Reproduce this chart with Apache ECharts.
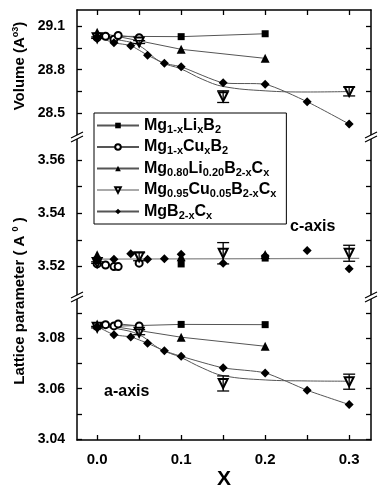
<!DOCTYPE html>
<html>
<head>
<meta charset="utf-8">
<script src="https://cdn.jsdelivr.net/npm/echarts@6/dist/echarts.min.js"></script>
<style>
  html, body { margin: 0; padding: 0; background: #fff; }
  #chart { width: 382px; height: 491px; }
</style>
</head>
<body>
<div id="chart"></div>
<script>
// series names (legend shows them with subscripts)
const names = ["Mg1-xLixB2", "Mg1-xCuxB2", "Mg0.80Li0.20B2-xCx", "Mg0.95Cu0.05B2-xCx", "MgB2-xCx"];
const legendRich = [
  "Mg{s|1-x}Li{s|x}B{s|2}",
  "Mg{s|1-x}Cu{s|x}B{s|2}",
  "Mg{s|0.80}Li{s|0.20}B{s|2-x}C{s|x}",
  "Mg{s|0.95}Cu{s|0.05}B{s|2-x}C{s|x}",
  "MgB{s|2-x}C{s|x}"
];

// Mg1-xLixB2
const xLi = [0, 0.1, 0.2];
const volLi = [29.03, 29.027, 29.047];
const cLi = [3.5225, 3.5210, 3.5232];
const aLi = [3.0847, 3.0856, 3.0855];

// Mg1-xCuxB2
const xCu = [0, 0.01, 0.02, 0.025, 0.05];
const volCu = [29.02, 29.03, 29.01, 29.035, 29.02];
const cCu = [3.5210, 3.5206, 3.5200, 3.5200, 3.5213];
const aCu = [3.0848, 3.0855, 3.0850, 3.0858, 3.0850];

// Mg0.80Li0.20B2-xCx
const xLiC = [0, 0.1, 0.2];
const volLiC = [29.057, 28.94, 28.878];
const cLiC = [3.5244, 3.5237, 3.5245];
const aLiC = [3.0858, 3.0805, 3.0769];

// Mg0.95Cu0.05B2-xCx (with error bars)
const xCuC = [0, 0.05, 0.15, 0.3];
const volCuC = [29.02, 28.99, 28.615, 28.65];
const volCuCErr = [0.005, 0.01, 0.04, 0.03];
const cCuC = [3.5215, 3.5237, 3.5250, 3.5250];
const cCuCErr = [0.0003, 0.0015, 0.004, 0.003];
const aCuC = [3.0845, 3.0825, 3.0621, 3.0628];
const aCuCErr = [0.0003, 0.001, 0.003, 0.003];

// MgB2-xCx
const xC = [0, 0.02, 0.04, 0.06, 0.08, 0.1, 0.15, 0.2, 0.25, 0.3];
const volC = [29.027, 28.985, 28.965, 28.90, 28.844, 28.82, 28.71, 28.70, 28.58, 28.427];
const cC = [3.5225, 3.5228, 3.5248, 3.5228, 3.5229, 3.5246, 3.5213, 3.5240, 3.5260, 3.5192];
const aC = [3.0848, 3.0815, 3.0806, 3.0781, 3.0751, 3.0729, 3.0683, 3.0663, 3.0594, 3.0537];

// guide curves drawn through the Cu+C data
const xFit = [0, 0.025, 0.05, 0.075, 0.1, 0.125, 0.15, 0.2, 0.25, 0.3];
const volFit = [29.02, 29.005, 28.965, 28.855, 28.805, 28.735, 28.685, 28.655, 28.647, 28.65];
const aFit = [3.0848, 3.0838, 3.0815, 3.0758, 3.0724, 3.0683, 3.0652, 3.0635, 3.0631, 3.0630];
const xFlat = [-0.005, 0.312];
const cFlat = [3.5228, 3.5231];

// ticks
const xTicks = [0, 0.05, 0.1, 0.15, 0.2, 0.25, 0.3];
const xTickLabels = [0, 0.1, 0.2, 0.3];
const volTicks = [28.5, 28.65, 28.8, 28.95, 29.1];
const volLabels = [28.5, 28.8, 29.1];
const cTicks = [3.52, 3.53, 3.54, 3.55, 3.56];
const cLabels = [3.52, 3.54, 3.56];
const aTicks = [3.04, 3.05, 3.06, 3.07, 3.08, 3.09];
const aLabels = [3.04, 3.06, 3.08];

const FONT = "'Liberation Sans', Arial, sans-serif";
const LINE = "#555";

function pairs(xs, ys) {
  return xs.map((x, i) => [x, ys[i]]);
}

const chart = echarts.init(document.getElementById("chart"));

const grids = [
  { left: 77, right: 11, top: 10, height: 127 },
  { left: 77, right: 11, top: 137, height: 160 },
  { left: 77, right: 11, top: 297, height: 154 }
];
const yRanges = [[28.338, 29.21], [3.5086, 3.5686], [3.0396, 3.0965]];
const yTicks = [volTicks, cTicks, aTicks];
const yLabels = [volLabels, cLabels, aLabels];
const yDigits = [1, 2, 2];

const tickStyle = { inside: true, length: 5, lineStyle: { color: "#000", width: 1.3 } };
const axisLine = { show: true, onZero: false, lineStyle: { color: "#000", width: 1.5 } };

const xAxes = [];
for (let i = 0; i < 3; i++) {
  xAxes.push({
    type: "value", gridIndex: i, min: -0.024, max: 0.326,
    show: i === 2, position: "bottom",
    axisLine: axisLine,
    axisTick: Object.assign({ customValues: xTicks }, tickStyle),
    axisLabel: {
      customValues: xTickLabels, margin: 12,
      formatter: v => v.toFixed(1),
      color: "#000", fontFamily: FONT, fontWeight: "bold", fontSize: 15
    },
    splitLine: { show: false },
    name: i === 2 ? "X" : "", nameLocation: "middle", nameGap: 29,
    nameTextStyle: { color: "#000", fontFamily: FONT, fontWeight: "bold", fontSize: 21 }
  });
}
// top frame with ticks
xAxes.push({
  type: "value", gridIndex: 0, min: -0.024, max: 0.326, position: "top",
  axisLine: axisLine,
  axisTick: Object.assign({ customValues: xTicks }, tickStyle),
  axisLabel: { show: false },
  splitLine: { show: false }
});

const yAxes = [];
for (let i = 0; i < 3; i++) {
  yAxes.push({
    type: "value", gridIndex: i, min: yRanges[i][0], max: yRanges[i][1], position: "left",
    axisLine: axisLine,
    axisTick: Object.assign({ customValues: yTicks[i] }, tickStyle),
    axisLabel: {
      customValues: yLabels[i], margin: 12,
      formatter: v => v.toFixed(yDigits[i]),
      color: "#000", fontFamily: FONT, fontWeight: "bold", fontSize: 14
    },
    splitLine: { show: false }
  });
}
for (let i = 0; i < 3; i++) {
  yAxes.push({
    type: "value", gridIndex: i, min: yRanges[i][0], max: yRanges[i][1], position: "right",
    axisLine: axisLine,
    axisTick: Object.assign({ customValues: yTicks[i] }, tickStyle),
    axisLabel: { show: false },
    splitLine: { show: false }
  });
}

const defs = [
  { xs: xLi, ys: [volLi, cLi, aLi], symbol: "rect", size: 7 },
  { xs: xCu, ys: [volCu, cCu, aCu], symbol: "emptyCircle", size: 7 },
  { xs: xLiC, ys: [volLiC, cLiC, aLiC], symbol: "triangle", size: 9 },
  { xs: xCuC, ys: [volCuC, cCuC, aCuC], symbol: "emptyTriangle", size: 9, rotate: 180, noLine: true },
  { xs: xC, ys: [volC, cC, aC], symbol: "diamond", size: 9 }
];
const errs = [volCuCErr, cCuCErr, aCuCErr];

const series = [];
for (let p = 0; p < 3; p++) {
  defs.forEach((d, k) => {
    const hide = d.noLine || p === 1;
    series.push({
      type: "line", name: names[k], xAxisIndex: p, yAxisIndex: p,
      data: pairs(d.xs, d.ys[p]),
      symbol: d.symbol, symbolSize: d.size, symbolRotate: d.rotate || 0,
      itemStyle: { color: "#000", borderWidth: 1 },
      lineStyle: { color: LINE, width: 1, opacity: hide ? 0 : 1 },
      smooth: k === 4 ? 0.2 : false,
      z: 3, animation: false
    });
  });
  series.push({
    type: "custom", xAxisIndex: p, yAxisIndex: p, z: 4, animation: false,
    data: xCuC.map((x, i) => [x, defs[3].ys[p][i] - errs[p][i], defs[3].ys[p][i] + errs[p][i]]),
    encode: { x: 0, y: [1, 2] },
    renderItem: (params, api) => {
      const x = api.value(0);
      const lo = api.coord([x, api.value(1)]);
      const hi = api.coord([x, api.value(2)]);
      const w = 6;
      const st = { stroke: "#000", lineWidth: 1.3 };
      return {
        type: "group",
        children: [
          { type: "line", shape: { x1: lo[0], y1: lo[1], x2: hi[0], y2: hi[1] }, style: st },
          { type: "line", shape: { x1: lo[0] - w, y1: lo[1], x2: lo[0] + w, y2: lo[1] }, style: st },
          { type: "line", shape: { x1: hi[0] - w, y1: hi[1], x2: hi[0] + w, y2: hi[1] }, style: st }
        ]
      };
    }
  });
}
// guide curves
series.push({
  type: "line", xAxisIndex: 0, yAxisIndex: 0, data: pairs(xFit, volFit),
  showSymbol: false, smooth: 0.4, lineStyle: { color: LINE, width: 1 }, z: 2, animation: false
});
series.push({
  type: "line", xAxisIndex: 1, yAxisIndex: 1, data: pairs(xFlat, cFlat),
  showSymbol: false, lineStyle: { color: "#888", width: 1.2 }, z: 2, animation: false
});
series.push({
  type: "line", xAxisIndex: 2, yAxisIndex: 2, data: pairs(xFit, aFit),
  showSymbol: false, smooth: 0.4, lineStyle: { color: LINE, width: 1 }, z: 2, animation: false
});

function brk(x, y) {
  const st = { stroke: "#000", lineWidth: 1.2 };
  return [
    { type: "rect", shape: { x: x - 3, y: y - 2, width: 6, height: 4 }, style: { fill: "#fff" }, z: 100 },
    { type: "line", shape: { x1: x - 6, y1: y + 1, x2: x + 6, y2: y - 5 }, style: st, z: 101 },
    { type: "line", shape: { x1: x - 6, y1: y + 5, x2: x + 6, y2: y - 1 }, style: st, z: 101 }
  ];
}

const titleRich = {
  n: { fontFamily: FONT, fontWeight: "bold", fontSize: 15, fill: "#000" },
  sup: { fontFamily: FONT, fontWeight: "bold", fontSize: 9, fill: "#000", padding: [0, 0, 9, 0] }
};

const graphic = [].concat(
  brk(77, 137), brk(371, 137), brk(77, 297), brk(371, 297),
  [
    {
      type: "text", x: 20, y: 66, rotation: Math.PI / 2, z: 100,
      style: { text: "{n|Volume (A}{sup|o3}{n|)}", align: "center", verticalAlign: "middle", rich: titleRich }
    },
    {
      type: "text", x: 20, y: 301, rotation: Math.PI / 2, z: 100,
      style: { text: "{n|Lattice parameter ( A }{sup|0}{n| )}", align: "center", verticalAlign: "middle", rich: titleRich }
    },
    {
      type: "text", x: 290, y: 227, z: 100,
      style: { text: "c-axis", font: "bold 16px 'Liberation Sans', Arial, sans-serif",
        fill: "#000", align: "left", verticalAlign: "middle" }
    },
    {
      type: "text", x: 104, y: 392, z: 100,
      style: { text: "a-axis", font: "bold 16px 'Liberation Sans', Arial, sans-serif",
        fill: "#000", align: "left", verticalAlign: "middle" }
    }
  ]
);

chart.setOption({
  animation: false,
  grid: grids,
  xAxis: xAxes,
  yAxis: yAxes,
  legend: {
    orient: "vertical", left: 94, top: 113,
    data: names.map((n, i) => i === 3
      ? { name: n, lineStyle: { opacity: 1, width: 1, color: LINE } }
      : { name: n }),
    formatter: n => legendRich[names.indexOf(n)],
    itemWidth: 42, itemHeight: 7, itemGap: 2.5,
    padding: [3, 10, 3, 2],
    borderColor: "#000", borderWidth: 1,
    backgroundColor: "#fff",
    selectedMode: false,
    textStyle: {
      color: "#000", fontFamily: FONT, fontWeight: "bold", fontSize: 16, lineHeight: 19,
      rich: { s: { fontFamily: FONT, fontWeight: "bold", fontSize: 11, padding: [8, 0, 0, 0] } }
    }
  },
  graphic: graphic,
  series: series
});
</script>
</body>
</html>
